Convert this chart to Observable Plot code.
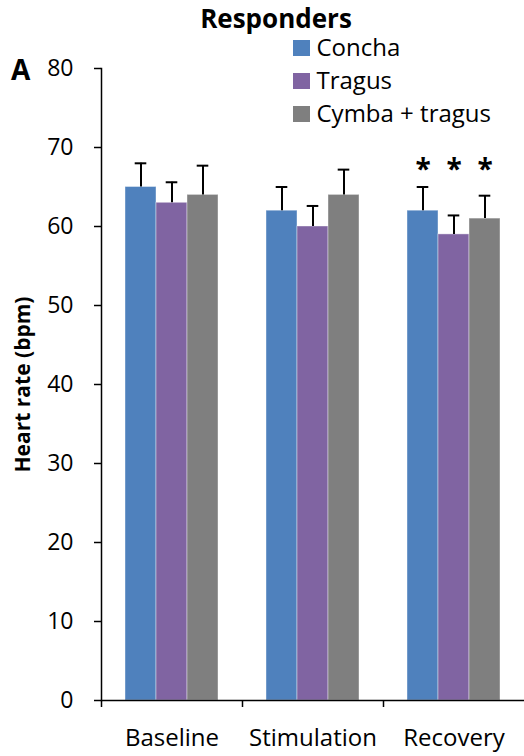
<!DOCTYPE html>
<html>
<head>
<meta charset="utf-8">
<script src="https://cdn.jsdelivr.net/npm/d3@7"></script>
<script src="https://cdn.jsdelivr.net/npm/@observablehq/plot@0.6"></script>
<style>
  html, body { margin: 0; background: #fff; }
  #figure { position: relative; width: 524px; height: 756px; font-family: "Open Sans", sans-serif; color: #000; overflow: hidden; }
  #figure svg { position: absolute; left: 0; top: 0; }
  .title { position: absolute; left: 0; width: 552px; top: 5px; text-align: center; font-weight: 700; font-size: 26px; line-height: 1; }
  .panel { position: absolute; left: 11px; top: 55px; font-weight: 700; font-size: 28px; line-height: 1; }
  .legend { position: absolute; left: 293px; top: 34.7px; }
  .legend .row { display: flex; height: 33px; }
  .legend .swatch { width: 16.5px; height: 16px; margin-top: 5.3px; margin-right: 7px; }
  .legend .label { font-size: 24px; line-height: 1; white-space: nowrap; }
</style>
</head>
<body>
<div id="figure"></div>
<script>
// Heart rate of responders by stimulation site and phase (mean + SD)
const groups = ["Baseline", "Stimulation", "Recovery"];
const series = ["Concha", "Tragus", "Cymba + tragus"];
const colors = ["#4f81bd", "#8064a2", "#7f7f7f"];

const conchaMean = [65, 62, 62];
const tragusMean = [63, 60, 59];
const cymbaMean  = [64, 64, 61];

const conchaSD = [3.0, 3.0, 3.0];
const tragusSD = [2.6, 2.6, 2.4];
const cymbaSD  = [3.7, 3.2, 2.9];

// phases marked as significant (asterisk above every bar)
const significant = ["Recovery"];

const yTicks = [0, 10, 20, 30, 40, 50, 60, 70, 80];

const means = [conchaMean, tragusMean, cymbaMean];
const sds = [conchaSD, tragusSD, cymbaSD];

const rows = groups.flatMap((group, i) =>
  series.map((s, j) => ({group, series: s, value: means[j][i], err: sds[j][i]}))
);

const starRows = significant.flatMap(group => {
  const inGroup = rows.filter(d => d.group === group);
  const top = d3.max(inGroup, d => d.value + d.err);
  return inGroup.map(d => ({group, series: d.series, top}));
});

const W = 524, H = 756;
const mL = 101, mR = 0, mT = 68, mB = 56;
const step = (W - mL - mR) / groups.length;

const chart = Plot.plot({
  width: W,
  height: H,
  marginTop: mT,
  marginBottom: mB,
  marginLeft: mL,
  marginRight: mR,
  style: {fontFamily: "'Open Sans', sans-serif", color: "#000", background: "transparent", overflow: "visible"},
  fx: {domain: groups, padding: 0, label: null, axis: null},
  x: {domain: series, paddingInner: 0, paddingOuter: 0.75, axis: null},
  y: {domain: [0, 80], axis: null},
  color: {domain: series, range: colors},
  marks: [
    Plot.barY(rows, {fx: "group", x: "series", y: "value", fill: "series", stroke: "#fff", strokeOpacity: 0.4}),
    Plot.ruleX(rows, {fx: "group", x: "series", y1: "value", y2: d => d.value + d.err, stroke: "#000", strokeWidth: 2}),
    Plot.tickY(rows, {fx: "group", x: "series", y: d => d.value + d.err, stroke: "#000", strokeWidth: 2, insetLeft: 9.7, insetRight: 9.7}),
    Plot.text(starRows, {fx: "group", x: "series", y: "top", text: () => "*", fontSize: 28, fontWeight: "bold", dy: -17}),
    Plot.frame({anchor: "left", facetAnchor: "left", stroke: "#000", strokeWidth: 1.5}),
    Plot.ruleY([0], {stroke: "#000", strokeWidth: 1.5}),
    Plot.axisY({ticks: yTicks, tickSize: 7, tickPadding: 21, fontSize: 23, strokeWidth: 1.5, label: null}),
    Plot.axisY({ticks: [], label: "Heart rate (bpm)", labelAnchor: "center", labelArrow: "none", labelOffset: 86, fontSize: 21, fontWeight: "bold"}),
    Plot.axisFx({anchor: "bottom", tickSize: 7, tickFormat: () => "", strokeWidth: 1.5, dx: -step / 2, label: null}),
    Plot.axisFx({anchor: "bottom", tickSize: 0, tickPadding: 28, fontSize: 24, label: null})
  ]
});

const fig = document.getElementById("figure");
fig.appendChild(chart);

const title = document.createElement("div");
title.className = "title";
title.textContent = "Responders";
fig.appendChild(title);

const panel = document.createElement("div");
panel.className = "panel";
panel.textContent = "A";
fig.appendChild(panel);

const legend = document.createElement("div");
legend.className = "legend";
series.forEach((s, i) => {
  const row = document.createElement("div");
  row.className = "row";
  const sw = document.createElement("span");
  sw.className = "swatch";
  sw.style.background = colors[i];
  const lab = document.createElement("span");
  lab.className = "label";
  lab.textContent = s;
  row.append(sw, lab);
  legend.appendChild(row);
});
fig.appendChild(legend);
</script>
</body>
</html>
